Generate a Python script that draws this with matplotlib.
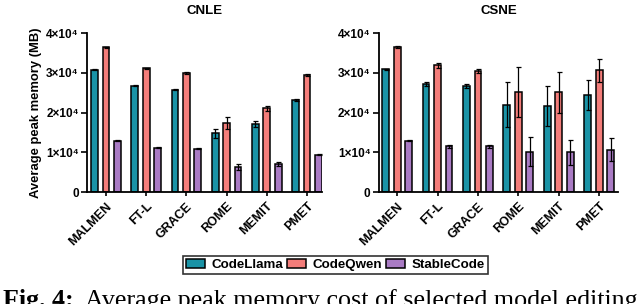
import numpy as np
import matplotlib
matplotlib.use('Agg')
import matplotlib.pyplot as plt

plt.rcParams['font.family'] = ['Liberation Sans', 'DejaVu Sans']
plt.rcParams['font.weight'] = 'bold'

# ── data ─────────────────────────────────────────
methods = ["MALMEN", "FT-L", "GRACE", "ROME", "MEMIT", "PMET"]
models  = ["CodeLlama", "CodeQwen", "StableCode"]
colors  = ["#1a93a6", "#f47d7a", "#a97bc4"]

# CNLE (MB)
cnle_llama = [30800, 26800, 25800, 14800, 17100, 23200]
cnle_qwen  = [36400, 31200, 29900, 17400, 21100, 29500]
cnle_sc    = [12900, 11200, 10900, 6300, 7100, 9400]
cnle_llama_err = [200, 150, 150, 1200, 700, 150]
cnle_qwen_err  = [200, 150, 200, 1500, 600, 200]
cnle_sc_err    = [150, 150, 150, 700, 500, 150]

# CSNE (MB)
csne_llama = [30900, 27300, 26600, 22000, 21700, 24500]
csne_qwen  = [36500, 31900, 30500, 25300, 25100, 30600]
csne_sc    = [12900, 11500, 11500, 10200, 10000, 10700]
csne_llama_err = [150, 500, 500, 5700, 5000, 3800]
csne_qwen_err  = [200, 600, 600, 6300, 5100, 2900]
csne_sc_err    = [150, 300, 300, 3600, 3200, 2900]

titles = ["CNLE", "CSNE"]
yticks = [0, 10000, 20000, 30000, 40000]
ytick_labels = ["0", "1×10⁴", "2×10⁴", "3×10⁴", "4×10⁴"]

panels = [
    ([cnle_llama, cnle_qwen, cnle_sc], [cnle_llama_err, cnle_qwen_err, cnle_sc_err]),
    ([csne_llama, csne_qwen, csne_sc], [csne_llama_err, csne_qwen_err, csne_sc_err]),
]

# ── figure ───────────────────────────────────────
fig = plt.figure(figsize=(6.4, 3.04), dpi=100)
ax_pos = [[0.136, 0.368, 0.367, 0.523],
          [0.592, 0.368, 0.374, 0.523]]
xlims = [(-0.47, 5.37), (-0.45, 5.47)]

x = np.arange(len(methods))
off = 0.285
bw = 0.17
handles = []
for k, (vals, errs) in enumerate(panels):
    ax = fig.add_axes(ax_pos[k])
    for j in range(3):
        b = ax.bar(x + (j - 1) * off, vals[j], bw, color=colors[j],
                   edgecolor="black", linewidth=1.1,
                   yerr=errs[j], capsize=1.8,
                   error_kw=dict(elinewidth=0.9, capthick=0.9, ecolor="black"))
        if k == 0:
            handles.append(b)
    ax.set_ylim(0, 40000)
    ax.set_xlim(*xlims[k])
    ax.set_yticks(yticks)
    ax.set_yticklabels(ytick_labels, fontsize=8.5, fontweight="bold")
    ax.set_xticks(x)
    ax.set_xticklabels(methods, rotation=45, ha="right", rotation_mode="anchor",
                       fontsize=9, fontweight="bold")
    ax.tick_params(axis="x", length=3, width=1.2, pad=3)
    ax.tick_params(axis="y", length=4, width=1.2, pad=2)
    for s in ["top", "right"]:
        ax.spines[s].set_visible(False)
    for s in ["left", "bottom"]:
        ax.spines[s].set_linewidth(1.3)
    ax.set_title(titles[k], fontsize=9.5, fontweight="bold", pad=14)
    if k == 0:
        ax.set_ylabel("Average peak memory (MB)", fontsize=9.4, fontweight="bold",
                      labelpad=3)

leg = fig.legend(handles, models, loc="center", bbox_to_anchor=(0.524, 0.128),
                 ncol=3, frameon=True, fancybox=False,
                 edgecolor="black", handlelength=1.4, handleheight=0.6,
                 handletextpad=0.45, columnspacing=0.35, borderpad=0.25,
                 prop=dict(weight="bold", size=9.6))
leg.get_frame().set_linewidth(1.2)

# caption (cut off at the bottom, as in the source)
fig.text(3 / 640, 1 - 289 / 304, "Fig. 4:", family="Liberation Serif",
         fontweight="bold", fontsize=18.7, va="top", ha="left")
fig.text(85 / 640, 1 - 289 / 304, "Average peak memory cost of selected model editing",
         family="Liberation Serif", fontweight="normal", fontsize=18.7,
         va="top", ha="left")

fig.savefig("out.png", dpi=100)
